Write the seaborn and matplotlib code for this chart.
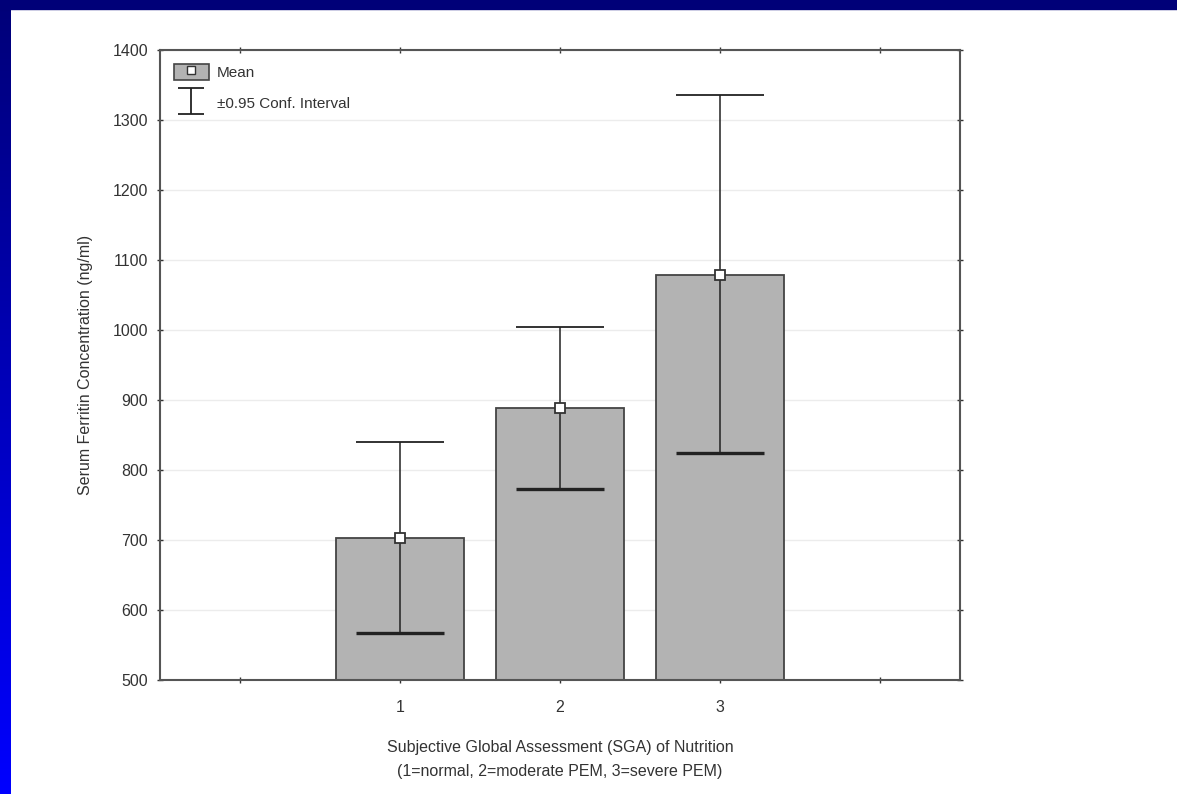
import numpy as np
import pandas as pd
import matplotlib
matplotlib.use("Agg")
import matplotlib.pyplot as plt
import seaborn as sns
from matplotlib.patches import Patch, Rectangle
from matplotlib.lines import Line2D
from matplotlib.legend_handler import HandlerTuple
from matplotlib.path import Path
from matplotlib.colors import LinearSegmentedColormap

# data
groups = ["1", "2", "3"]
means = [703, 889, 1079]
ci_low = [567, 773, 824]
ci_high = [840, 1004, 1336]
yticks = [500, 600, 700, 800, 900, 1000, 1100, 1200, 1300, 1400]

df = pd.DataFrame({"SGA": groups, "Ferritin": means})

sns.set_theme(style="white")
plt.rcParams["font.family"] = ["Liberation Sans", "DejaVu Sans"]

fig = plt.figure(figsize=(11.77, 7.94), dpi=100)
fig.patch.set_facecolor("white")

# blue slide frame: navy band on top, gradient strip on the left
strip = fig.add_axes([0, 0, 11 / 1177, 1])
grad = np.linspace(0, 1, 256).reshape(-1, 1)
cmap = LinearSegmentedColormap.from_list("slide", ["#000078", "#0000ff"])
strip.imshow(grad, aspect="auto", cmap=cmap, extent=[0, 1, 0, 1], origin="upper")
strip.axis("off")
fig.patches.append(Rectangle((0, 1 - 9 / 794), 1, 9 / 794, transform=fig.transFigure,
                             color="#000078", zorder=5))

ax = fig.add_axes([160 / 1177, 1 - 680 / 794, 800 / 1177, 630 / 794])
sns.barplot(data=df, x="SGA", y="Ferritin", order=groups, color="#b3b3b3",
            saturation=1, width=0.8, errorbar=None, edgecolor="#444444",
            linewidth=1.3, ax=ax, zorder=2)

x = np.arange(len(groups))
m = np.array(means)
yerr = [m - np.array(ci_low), np.array(ci_high) - m]
_, caps, _ = ax.errorbar(x, m, yerr=yerr, fmt="none", ecolor="#222222",
                         elinewidth=1.1, capsize=32, capthick=1.3, zorder=3)
caps[0].set_markeredgewidth(2.4)
ax.plot(x, m, ls="none", marker="s", ms=7, mfc="white", mec="#333333",
        mew=1.3, zorder=4)

ax.set_xlim(-1.5, 3.5)
ax.set_ylim(500, 1400)
ax.set_xticks([-1, 0, 1, 2, 3])
ax.set_xticklabels(["", "1", "2", "3", ""])
ax.set_yticks(yticks)
ax.yaxis.grid(True, color="#ececec", lw=1)
ax.set_axisbelow(True)
for s in ax.spines.values():
    s.set_color("#555555")
    s.set_linewidth(1.5)
ax.tick_params(axis="both", which="both", labelsize=11.5, colors="#333333",
               direction="inout", length=5, width=1, top=True, right=True,
               bottom=True, left=True, pad=6)
ax.tick_params(axis="x", pad=12)

ax.set_xlabel("Subjective Global Assessment (SGA) of Nutrition\n"
              "(1=normal, 2=moderate PEM, 3=severe PEM)",
              fontsize=11.5, color="#333333", labelpad=18, linespacing=1.75)
ax.set_ylabel("Serum Ferritin Concentration (ng/ml)", fontsize=11.5,
              color="#333333", labelpad=14)

# legend: mean box and confidence interval symbol
ci_path = Path([(-1, 1), (1, 1), (0, 1), (0, -1), (-1, -1), (1, -1)],
               [Path.MOVETO, Path.LINETO, Path.MOVETO, Path.LINETO,
                Path.MOVETO, Path.LINETO])
mean_box = (Patch(facecolor="#b3b3b3", edgecolor="#444444", lw=1.2),
            Line2D([], [], ls="none", marker="s", ms=6, mfc="white",
                   mec="#333333", mew=1))
ci_mark = Line2D([], [], ls="none", marker=ci_path, ms=19, mec="#222222",
                 mew=1.3)
leg = ax.legend([mean_box, ci_mark], ["Mean", "\u00b10.95 Conf. Interval"],
                handler_map={tuple: HandlerTuple(ndivide=1, pad=0)},
                loc="upper left", frameon=False, fontsize=11,
                handlelength=2.3, handleheight=1.3, labelspacing=0.9,
                borderaxespad=0.5, handletextpad=0.5)
for t in leg.get_texts():
    t.set_color("#333333")

fig.savefig("out.png", dpi=100)
